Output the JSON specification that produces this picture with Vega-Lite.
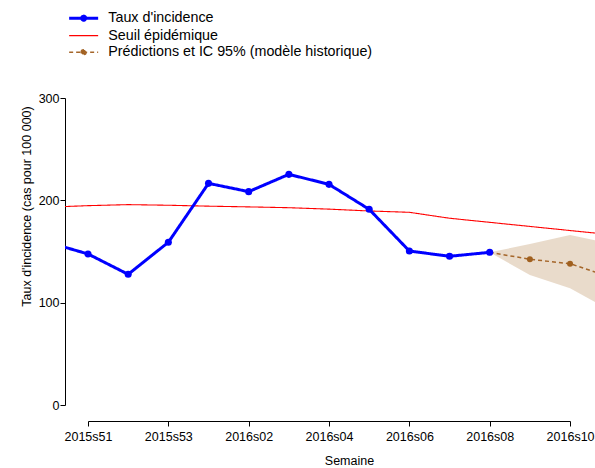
{
  "$schema": "https://vega.github.io/schema/vega-lite/v6.json",
  "autosize": "none",
  "width": 530,
  "height": 307,
  "padding": {"left": 65, "top": 98, "right": 0, "bottom": 63},
  "background": "white",
  "config": {
    "font": "Liberation Sans",
    "view": {"stroke": null},
    "axis": {"grid": false, "domainColor": "#000000", "tickColor": "#000000", "labelColor": "#000000", "titleColor": "#000000", "labelFont": "Liberation Sans", "titleFont": "Liberation Sans", "titleFontWeight": "normal", "labelFontSize": 12.5, "titleFontSize": 12.5}
  },
  "data": {
    "values": [
      {"semaine": "2015s50", "i": 0, "serie": "Seuil épidémique", "v": 193.3},
      {"semaine": "2015s51", "i": 1, "serie": "Seuil épidémique", "v": 194.8},
      {"semaine": "2015s52", "i": 2, "serie": "Seuil épidémique", "v": 195.8},
      {"semaine": "2015s53", "i": 3, "serie": "Seuil épidémique", "v": 195.2},
      {"semaine": "2016s01", "i": 4, "serie": "Seuil épidémique", "v": 194.3},
      {"semaine": "2016s02", "i": 5, "serie": "Seuil épidémique", "v": 193.6},
      {"semaine": "2016s03", "i": 6, "serie": "Seuil épidémique", "v": 192.8},
      {"semaine": "2016s04", "i": 7, "serie": "Seuil épidémique", "v": 191.4},
      {"semaine": "2016s05", "i": 8, "serie": "Seuil épidémique", "v": 189.6},
      {"semaine": "2016s06", "i": 9, "serie": "Seuil épidémique", "v": 188.3},
      {"semaine": "2016s07", "i": 10, "serie": "Seuil épidémique", "v": 182.5},
      {"semaine": "2016s08", "i": 11, "serie": "Seuil épidémique", "v": 178.5},
      {"semaine": "2016s09", "i": 12, "serie": "Seuil épidémique", "v": 174.5},
      {"semaine": "2016s10", "i": 13, "serie": "Seuil épidémique", "v": 170.5},
      {"semaine": "2016s11", "i": 14, "serie": "Seuil épidémique", "v": 166.5},
      {"semaine": "2016s08", "i": 11, "serie": "Prédictions et IC 95% (modèle historique)", "v": 149.2, "lo": 149.2, "hi": 149.2},
      {"semaine": "2016s09", "i": 12, "serie": "Prédictions et IC 95% (modèle historique)", "v": 142.4, "lo": 127, "hi": 157.3},
      {"semaine": "2016s10", "i": 13, "serie": "Prédictions et IC 95% (modèle historique)", "v": 138.1, "lo": 114, "hi": 166.1},
      {"semaine": "2016s11", "i": 14, "serie": "Prédictions et IC 95% (modèle historique)", "v": 125, "lo": 92.5, "hi": 158},
      {"semaine": "2015s50", "i": 0, "serie": "Taux d'incidence", "v": 159},
      {"semaine": "2015s51", "i": 1, "serie": "Taux d'incidence", "v": 147.6},
      {"semaine": "2015s52", "i": 2, "serie": "Taux d'incidence", "v": 127.7},
      {"semaine": "2015s53", "i": 3, "serie": "Taux d'incidence", "v": 159},
      {"semaine": "2016s01", "i": 4, "serie": "Taux d'incidence", "v": 216.6},
      {"semaine": "2016s02", "i": 5, "serie": "Taux d'incidence", "v": 208.5},
      {"semaine": "2016s03", "i": 6, "serie": "Taux d'incidence", "v": 225.4},
      {"semaine": "2016s04", "i": 7, "serie": "Taux d'incidence", "v": 215.6},
      {"semaine": "2016s05", "i": 8, "serie": "Taux d'incidence", "v": 191.2},
      {"semaine": "2016s06", "i": 9, "serie": "Taux d'incidence", "v": 150.5},
      {"semaine": "2016s07", "i": 10, "serie": "Taux d'incidence", "v": 145.3},
      {"semaine": "2016s08", "i": 11, "serie": "Taux d'incidence", "v": 149.2}
    ]
  },
  "encoding": {
    "x": {
      "field": "i",
      "type": "quantitative",
      "scale": {"domain": [0.4274, 13.621], "nice": false, "zero": false},
      "axis": {
        "values": [1, 3, 5, 7, 9, 11, 13],
        "labelExpr": "['2015s50','2015s51','2015s52','2015s53','2016s01','2016s02','2016s03','2016s04','2016s05','2016s06','2016s07','2016s08','2016s09','2016s10','2016s11'][datum.value]",
        "offset": 16,
        "domainDash": [0, 23, 482, 200],
        "tickSize": 5,
        "labelPadding": 4,
        "labelFlush": false,
        "labelOverlap": false,
        "title": "Semaine",
        "titleX": 284,
        "titlePadding": 12
      }
    },
    "y": {
      "field": "v",
      "type": "quantitative",
      "scale": {"domain": [0, 300], "nice": false},
      "axis": {
        "values": [0, 100, 200, 300],
        "tickSize": 5,
        "labelPadding": 1,
        "title": "Taux d'incidence (cas pour 100 000)",
        "titleY": 108,
        "titlePadding": 5
      }
    }
  },
  "layer": [
    {
      "transform": [{"filter": "datum.lo != null"}],
      "mark": {"type": "area", "clip": true, "fill": "#c9a47c", "fillOpacity": 0.4, "stroke": null},
      "encoding": {
        "y": {"field": "lo", "type": "quantitative"},
        "y2": {"field": "hi"}
      }
    },
    {
      "transform": [{"filter": "datum.serie == 'Seuil épidémique'"}],
      "mark": {"type": "line", "clip": true, "strokeWidth": 1.1},
      "encoding": {
        "color": {
          "field": "serie",
          "type": "nominal",
          "scale": {"domain": ["Taux d'incidence", "Seuil épidémique", "Prédictions et IC 95% (modèle historique)"], "range": ["#0000ff", "#ff0000", "#a5662a"]},
          "legend": {
            "orient": "none",
            "legendX": 11.5,
            "legendY": -87,
            "title": null,
            "symbolType": "stroke",
            "symbolSize": 841,
            "labelFontSize": 14.3,
            "labelFont": "Liberation Sans",
            "labelColor": "#000000",
            "labelOffset": 17.5,
            "labelLimit": 0,
            "rowPadding": 1.5,
            "encode": {
              "symbols": {
                "update": {
                  "shape": {"signal": "datum.value === \"Taux d'incidence\" ? 'M-1,0H1M-0.14,0A0.14,0.14 0 1,1 0.14,0A0.14,0.14 0 1,1 -0.14,0Z' : (datum.value === 'Seuil épidémique' ? 'stroke' : 'M-1,0H1M-0.17,0A0.17,0.17 0 1,1 0.17,0A0.17,0.17 0 1,1 -0.17,0Z')"},
                  "strokeWidth": {"signal": "datum.value === \"Taux d'incidence\" ? 3 : (datum.value === 'Seuil épidémique' ? 1.1 : 1.5)"},
                  "fill": {"signal": "datum.value === \"Taux d'incidence\" ? '#0000ff' : (datum.value === 'Seuil épidémique' ? 'transparent' : '#a0601f')"}
                }
              }
            }
          }
        },
        "strokeDash": {
          "field": "serie",
          "type": "nominal",
          "scale": {"domain": ["Taux d'incidence", "Seuil épidémique", "Prédictions et IC 95% (modèle historique)"], "range": [[1, 0], [1, 0], [4, 3]]}
        }
      }
    },
    {
      "transform": [{"filter": "datum.serie == 'Prédictions et IC 95% (modèle historique)'"}],
      "mark": {"type": "line", "clip": true, "strokeWidth": 1.5},
      "encoding": {
        "color": {"field": "serie", "type": "nominal"},
        "strokeDash": {"field": "serie", "type": "nominal"}
      }
    },
    {
      "transform": [{"filter": "datum.serie == 'Prédictions et IC 95% (modèle historique)'"}],
      "mark": {"type": "point", "clip": true, "filled": true, "size": 36, "opacity": 1, "color": "#a0601f"}
    },
    {
      "transform": [{"filter": "datum.serie == \"Taux d'incidence\""}],
      "mark": {"type": "line", "clip": true, "strokeWidth": 3},
      "encoding": {
        "color": {"field": "serie", "type": "nominal"},
        "strokeDash": {"field": "serie", "type": "nominal"}
      }
    },
    {
      "transform": [{"filter": "datum.serie == \"Taux d'incidence\""}],
      "mark": {"type": "point", "clip": true, "filled": true, "size": 50, "opacity": 1, "color": "#0000ff"}
    }
  ]
}
